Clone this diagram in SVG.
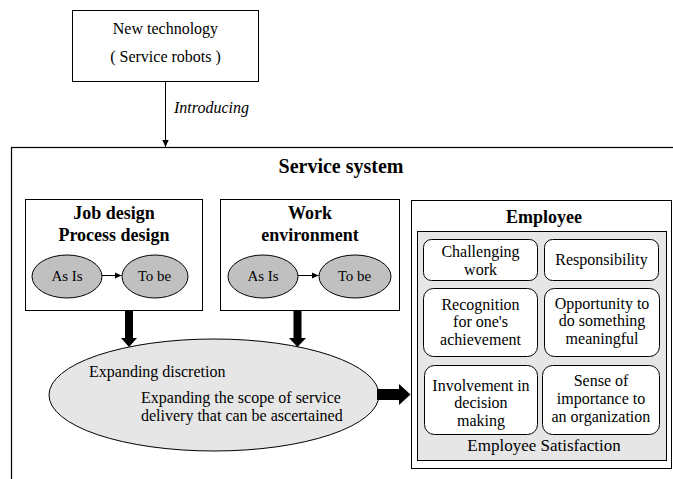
<svg xmlns="http://www.w3.org/2000/svg" width="673" height="479" viewBox="0 0 673 479" font-family="'Liberation Serif', 'Times New Roman', serif">
<style>
text{font-family:"Liberation Serif","Times New Roman",serif;fill:#000;}
.r16{font-family:"Liberation Serif","Times New Roman",serif;font-size:16px;}
.r15{font-family:"Liberation Serif","Times New Roman",serif;font-size:15px;}
.b{font-family:"Liberation Serif","Times New Roman",serif;font-weight:bold;font-size:18px;text-anchor:middle;}
.box{fill:#fff;stroke:#000;stroke-width:1;}
.rbox{fill:#fff;stroke:#000;stroke-width:1;}
.oval{fill:#c0c0c0;stroke:#000;stroke-width:1;}
.thin{stroke:#000;stroke-width:1;fill:none;}
.fat{fill:#000;stroke:none;}
</style>
<defs>
<marker id="ah" markerWidth="8" markerHeight="8" refX="7" refY="4" orient="auto" markerUnits="userSpaceOnUse">
<path d="M0,0.8 L7,4 L0,7.2 Z" fill="#000"/>
</marker>
</defs>
<rect width="673" height="479" fill="#fff"/>

<g id="new-technology">
<rect class="box" x="72.5" y="10.5" width="186" height="71"/>
<text class="r16" x="112.8" y="34">New technology</text>
<text class="r16" x="110.2" y="62">( Service robots )</text>
</g>

<g id="service-system">
<rect x="11.5" y="147.5" width="700" height="400" fill="none" stroke="#000" stroke-width="1.2"/>
<text class="b" x="341" y="173" style="font-size:20px">Service system</text>
</g>

<g id="job-design">
<rect class="box" x="25.5" y="199.5" width="177" height="111"/>
<text class="b" x="114" y="219">Job design</text>
<text class="b" x="114" y="241">Process design</text>
<ellipse class="oval" cx="67" cy="276.5" rx="35" ry="21.5"/>
<text class="r15" x="51.4" y="281">As Is</text>
<ellipse class="oval" cx="155" cy="276.5" rx="33" ry="21.5"/>
<text class="r15" x="137.7" y="281">To be</text>
</g>

<g id="work-environment">
<rect class="box" x="220.5" y="199.5" width="179" height="111"/>
<text class="b" x="310" y="219">Work</text>
<text class="b" x="310" y="241">environment</text>
<ellipse class="oval" cx="263" cy="276.5" rx="35" ry="21.5"/>
<text class="r15" x="247.4" y="281">As Is</text>
<ellipse class="oval" cx="355" cy="276.5" rx="36" ry="21.5"/>
<text class="r15" x="337.7" y="281">To be</text>
</g>

<g id="expanding">
<ellipse cx="214" cy="395" rx="165" ry="56" fill="#e6e6e6" stroke="#000" stroke-width="1"/>
<text class="r16" x="89" y="377">Expanding discretion</text>
<text class="r16" x="141" y="403">Expanding the scope of service</text>
<text class="r16" x="141" y="421">delivery that can be ascertained</text>
</g>

<g id="employee">
<rect class="box" x="411.5" y="200.5" width="260" height="268"/>
<text class="b" x="544" y="223">Employee</text>
<rect x="417.5" y="231.5" width="249" height="229" fill="#e6e6e6" stroke="#000" stroke-width="1"/>
<g id="challenging-work">
<rect class="rbox" x="423.5" y="239.5" width="114" height="41" rx="8"/>
<text class="r16" x="441.4" y="257">Challenging</text>
<text class="r16" x="464.1" y="275">work</text>
</g>
<g id="responsibility">
<rect class="rbox" x="544.5" y="239.5" width="114" height="41" rx="8"/>
<text class="r16" x="555.3" y="265">Responsibility</text>
</g>
<g id="recognition">
<rect class="rbox" x="423.5" y="288.5" width="114" height="68" rx="10"/>
<text class="r16" x="441.4" y="310">Recognition</text>
<text class="r16" x="453.1" y="327">for one's</text>
<text class="r16" x="440.1" y="345">achievement</text>
</g>
<g id="opportunity">
<rect class="rbox" x="544.5" y="288.5" width="115" height="68" rx="10"/>
<text class="r16" x="554.7" y="309">Opportunity to</text>
<text class="r16" x="558.7" y="326">do something</text>
<text class="r16" x="565.6" y="344">meaningful</text>
</g>
<g id="involvement">
<rect class="rbox" x="424.5" y="365.5" width="113" height="69" rx="10"/>
<text class="r16" x="432.3" y="391">Involvement in</text>
<text class="r16" x="454.3" y="408">decision</text>
<text class="r16" x="457" y="426">making</text>
</g>
<g id="sense">
<rect class="rbox" x="542.5" y="365.5" width="117" height="69" rx="10"/>
<text class="r16" x="573.7" y="386">Sense of</text>
<text class="r16" x="556.8" y="404">importance to</text>
<text class="r16" x="551.5" y="422">an organization</text>
</g>
<text class="r16" x="467.3" y="451" style="font-size:17px">Employee Satisfaction</text>
</g>

<g id="connectors">
<line class="thin" x1="165.5" y1="82" x2="165.5" y2="147" marker-end="url(#ah)"/>
<text class="r16" x="174" y="113" style="font-style:italic">Introducing</text>
<line class="thin" x1="102" y1="275.5" x2="121.5" y2="275.5" marker-end="url(#ah)"/>
<line class="thin" x1="298" y1="275.5" x2="318.5" y2="275.5" marker-end="url(#ah)"/>
<path class="fat" d="M125,311 H133 V338 H137 L129,347 L121,338 H125 Z"/>
<path class="fat" d="M293.5,311 H301.5 V338 H306 L297.5,347 L289,338 H293.5 Z"/>
<path class="fat" d="M377,389 H399 V384 L410.5,394.5 L399,405 V400 H377 Z"/>
</g>
</svg>
